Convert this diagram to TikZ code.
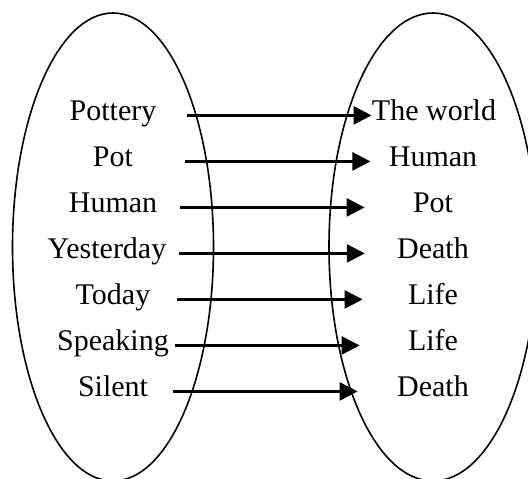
\documentclass[tikz,border=0pt]{standalone}
\usepackage{fontspec}
\setmainfont{Liberation Serif}
\usetikzlibrary{arrows.meta}
\tikzset{
  word/.style={anchor=base,inner sep=0pt,font=\fontsize{15}{18}\selectfont},
  link/.style={line width=1.3pt,-{Triangle[length=9pt,width=9pt]}},
  blob/.style={line width=0.8pt},
}

\begin{document}
\begin{tikzpicture}[x=0.5pt,y=-0.5pt]
  \useasboundingbox (0,0) rectangle (528,478);
  \clip (0,0) rectangle (528,478);
  \draw[blob] (113,247) ellipse [x radius=50.25pt,y radius=117pt];
  \draw[blob] (433,247) ellipse [x radius=52pt,y radius=117pt];
  % left set
  \node[word] (pottery) at (113,120) {Pottery};
  \node[word] (pot) at (113,166) {Pot};
  \node[word] (human) at (113,212) {Human};
  \node[word] (yesterday) at (107,258) {Yesterday};
  \node[word] (today) at (113,304) {Today};
  \node[word] (speaking) at (113,350) {Speaking};
  \node[word] (silent) at (113,396) {Silent};
  % right set
  \node[word] (tworld) at (434,120) {The world};
  \node[word] (thuman) at (433,166) {Human};
  \node[word] (tpot) at (433,212) {Pot};
  \node[word] (tdeath) at (433,258) {Death};
  \node[word] (tlife) at (433,304) {Life};
  \node[word] (tlife2) at (433,350) {Life};
  \node[word] (tdeath2) at (433,396) {Death};
  % mapping
  \draw[link] ([xshift=15.3pt]pottery.mid east) -- (tworld.mid west);
  \draw[link] ([xshift=26pt]pot.mid east) -- ([xshift=-9pt]thuman.mid west);
  \draw[link] ([xshift=11.4pt]human.mid east) -- ([xshift=-24pt]tpot.mid west);
  \draw[link] ([xshift=6.1pt]yesterday.mid east) -- ([xshift=-16pt]tdeath.mid west);
  \draw[link] ([xshift=13.3pt]today.mid east) -- ([xshift=-22.5pt]tlife.mid west);
  \draw[link] ([xshift=3.1pt]speaking.mid east) -- ([xshift=-24pt]tlife2.mid west);
  \draw[link] ([xshift=12.5pt]silent.mid east) -- ([xshift=-19.6pt]tdeath2.mid west);
\end{tikzpicture}
\end{document}
